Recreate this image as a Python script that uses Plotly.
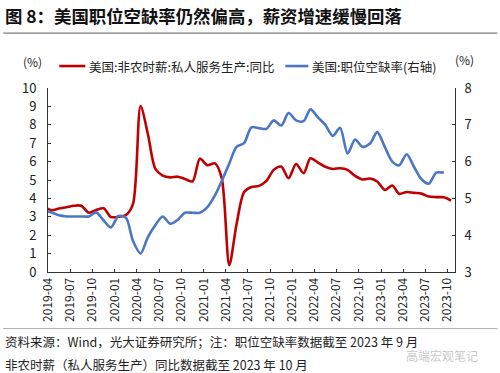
import plotly.graph_objects as go
import pandas as pd

# ---------------- data ----------------
months = [p.strftime("%Y-%m") for p in pd.period_range("2019-03", "2023-10", freq="M")]

wage_yoy = [3.55, 3.36, 3.45, 3.52, 3.60, 3.60, 3.22, 3.37, 3.46, 2.99,
            3.00, 3.10, 3.70, 9.02, 7.50, 5.60, 5.24, 5.14, 5.18, 5.06,
            4.92, 6.16, 5.80, 5.90, 5.10, 0.37, 2.60, 4.35, 4.62, 4.68,
            4.95, 5.55, 5.73, 5.10, 5.87, 5.37, 6.18, 5.95, 5.72, 5.60,
            5.64, 5.55, 5.22, 5.03, 5.08, 4.92, 4.46, 4.70, 4.25, 4.35,
            4.30, 4.26, 4.10, 4.07, 4.06, 3.88]

openings_rate = [4.65, 4.62, 4.54, 4.51, 4.51, 4.51, 4.51, 4.62, 4.40, 4.21,
                 4.52, 4.47, 3.84, 3.50, 3.95, 4.28, 4.51, 4.31, 4.42, 4.61,
                 4.61, 4.61, 4.76, 5.08, 5.47, 5.95, 6.40, 6.50, 6.93, 6.91,
                 6.89, 7.12, 6.98, 7.32, 7.12, 7.10, 7.42, 7.20, 7.00, 6.70,
                 6.92, 6.22, 6.60, 6.40, 6.49, 6.80, 6.40, 6.00, 5.90, 6.20,
                 5.86, 5.52, 5.40, 5.70, 5.70]

left_ticks = list(range(0, 11))
right_ticks = list(range(3, 9))

name_wage = "美国:非农时薪:私人服务生产:同比"
name_open = "美国:职位空缺率(右轴)"
title = "图 8：美国职位空缺率仍然偏高，薪资增速缓慢回落"
source1 = "资料来源：Wind，光大证券研究所；注：职位空缺率数据截至 2023 年 9 月"
source2 = "非农时薪（私人服务生产）同比数据截至 2023 年 10 月"
watermark = "高端宏观笔记"

# ---------------- styling ----------------
RED = "#C00000"
BLUE = "#4A76C4"
FONT = "Noto Sans CJK SC"
W, H = 500, 373
L, R, T, B = 47.7, 454.7, 88.0, 272.3

def px(x):
    return (x - L) / (R - L)

def py(y):
    return (B - y) / (B - T)

dates = pd.to_datetime(months) + pd.Timedelta(days=15)

fig = go.Figure()
fig.add_trace(go.Scatter(x=dates, y=wage_yoy, mode="lines", name=name_wage,
                         line=dict(color=RED, width=2.6, shape="spline", smoothing=0.8),
                         showlegend=False))
fig.add_trace(go.Scatter(x=dates[:len(openings_rate)], y=openings_rate, mode="lines",
                         name=name_open, yaxis="y2",
                         line=dict(color=BLUE, width=2.6, shape="spline", smoothing=0.8),
                         showlegend=False))

axis_common = dict(showgrid=False, zeroline=False, showline=True, linecolor="#333333",
                   linewidth=1, ticks="inside", ticklen=3, tickcolor="#333333",
                   tickfont=dict(family=FONT, size=13, color="#222222"))

fig.update_layout(
    width=W, height=H,
    margin=dict(l=L, r=W - R, t=T, b=H - B, pad=0),
    paper_bgcolor="white", plot_bgcolor="white",
    font=dict(family=FONT, color="#222222"),
    xaxis=dict(type="date", range=["2019-04-01", "2023-11-01"],
               tick0="2019-04-01", dtick="M3", tickformat="%Y-%m",
               tickangle=-90, mirror=False,
               **{**axis_common, "tickfont": dict(family=FONT, size=12, color="#222222")}),
    yaxis=dict(range=[0, 10], tickvals=left_ticks, ticklabelstandoff=8, **axis_common),
    yaxis2=dict(range=[3, 8], tickvals=right_ticks, overlaying="y", side="right",
                ticklabelstandoff=6, **axis_common),
)

ann = []
shapes = []
# title
ann.append(dict(text="<b>" + title + "</b>", x=px(3), y=py(15), xref="paper", yref="paper",
                xanchor="left", yanchor="middle", showarrow=False,
                font=dict(family=FONT, size=17.4, color="#111111")))
shapes.append(dict(type="line", xref="paper", yref="paper", x0=px(3), x1=px(497),
                   y0=py(33), y1=py(33), line=dict(color="#7F7F7F", width=1.2)))
# unit labels
ann.append(dict(text="(%)", x=px(32), y=py(61), xref="paper", yref="paper",
                xanchor="center", yanchor="middle", showarrow=False,
                font=dict(family=FONT, size=12, color="#222222")))
ann.append(dict(text="(%)", x=px(464), y=py(59), xref="paper", yref="paper",
                xanchor="center", yanchor="middle", showarrow=False,
                font=dict(family=FONT, size=12, color="#222222")))
# legend
shapes.append(dict(type="line", xref="paper", yref="paper", x0=px(59), x1=px(85),
                   y0=py(66), y1=py(66), line=dict(color=RED, width=2.6)))
ann.append(dict(text=name_wage, x=px(87), y=py(66), xref="paper", yref="paper",
                xanchor="left", yanchor="middle", showarrow=False,
                font=dict(family=FONT, size=12.5, color="#222222")))
shapes.append(dict(type="line", xref="paper", yref="paper", x0=px(285), x1=px(308),
                   y0=py(66), y1=py(66), line=dict(color=BLUE, width=2.6)))
ann.append(dict(text=name_open, x=px(310), y=py(66), xref="paper", yref="paper",
                xanchor="left", yanchor="middle", showarrow=False,
                font=dict(family=FONT, size=12.5, color="#222222")))
# footer
shapes.append(dict(type="line", xref="paper", yref="paper", x0=px(3), x1=px(497),
                   y0=py(329), y1=py(329), line=dict(color="#AAAAAA", width=1)))
ann.append(dict(text=source1, x=px(3), y=py(342), xref="paper", yref="paper",
                xanchor="left", yanchor="middle", showarrow=False,
                font=dict(family=FONT, size=12.5, color="#222222")))
ann.append(dict(text=source2, x=px(3), y=py(365), xref="paper", yref="paper",
                xanchor="left", yanchor="middle", showarrow=False,
                font=dict(family=FONT, size=12.5, color="#222222")))
ann.append(dict(text=watermark, x=px(404), y=py(356), xref="paper", yref="paper",
                xanchor="left", yanchor="middle", showarrow=False,
                font=dict(family=FONT, size=12, color="rgba(150,150,150,0.55)")))

fig.update_layout(annotations=ann, shapes=shapes)
fig.write_html("out.html", config={"displayModeBar": False},
               post_script="document.body.style.margin='0';document.body.style.overflow='hidden';")
